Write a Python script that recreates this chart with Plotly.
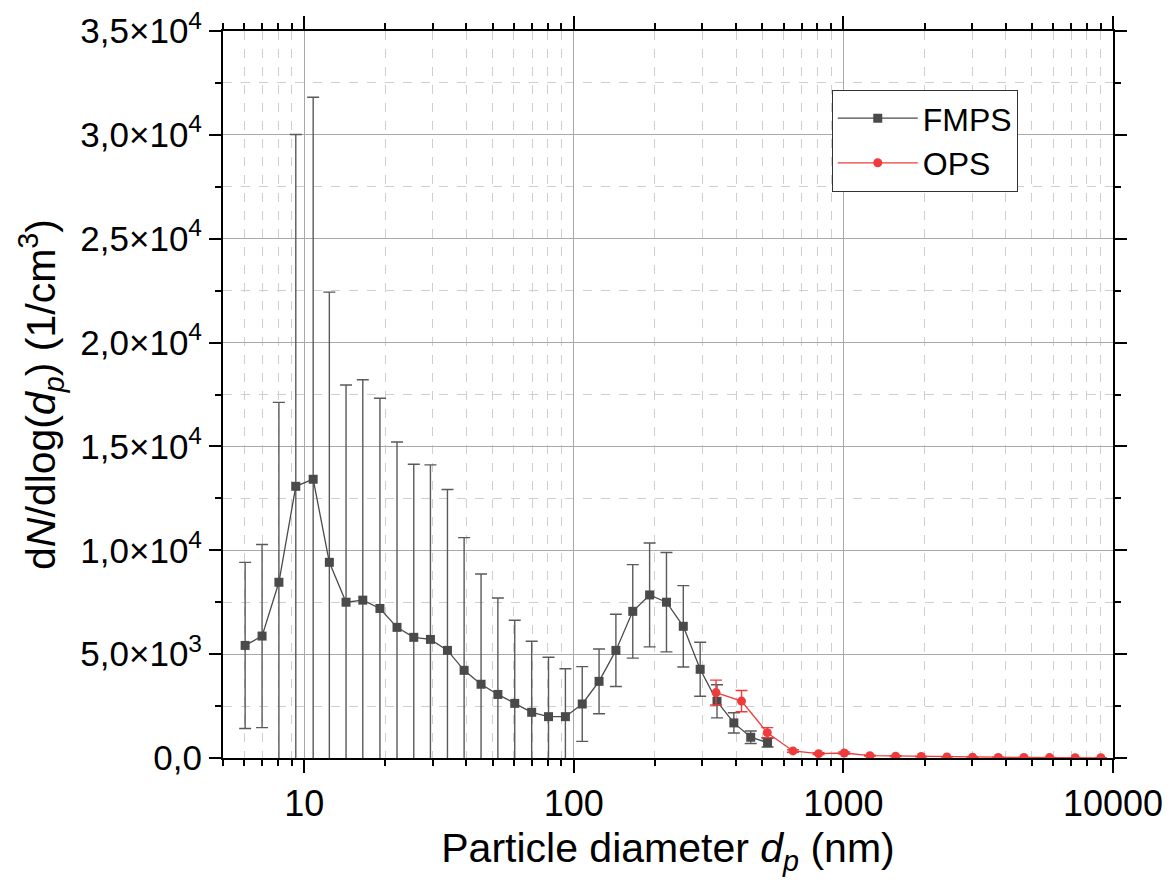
import plotly.graph_objects as go

# FMPS channels (nm), dN/dlog(dp) and error
fmps_d = [6.04, 6.98, 8.06, 9.31, 10.8, 12.4, 14.3, 16.5, 19.1, 22.1, 25.5, 29.4,
          34.0, 39.2, 45.3, 52.3, 60.4, 69.8, 80.6, 93.1, 107.5, 124.1, 143.3,
          165.5, 191.1, 220.7, 254.8, 294.3, 339.8, 392.4, 453.2, 523.3]
fmps_n = [5420, 5870, 8460, 13080, 13420, 9420, 7500, 7600, 7200, 6290, 5810, 5710,
          5180, 4220, 3550, 3060, 2630, 2200, 1990, 1990, 2600, 3690, 5180,
          7060, 7850, 7500, 6340, 4270, 2730, 1690, 1000, 740]
fmps_err = [4000, 4410, 8660, 16940, 18390, 13010, 10460, 10610, 10120, 8920, 8330, 8400,
            7750, 6390, 5310, 4640, 4000, 3420, 2860, 2310, 1800, 1560, 1740,
            2250, 2500, 2390, 1960, 1300, 800, 490, 300, 210]

# OPS channels (nm)
ops_d = [337, 419, 522, 650, 809, 1007, 1254, 1562, 1944, 2421, 3014, 3752,
         4672, 5816, 7241, 9016]
ops_n = [3150, 2740, 1220, 340, 210, 240, 110, 90, 70, 50, 40, 30, 25, 20, 15, 10]
ops_err = [600, 510, 240, 60, 40, 50, 20, 15, 10, 8, 6, 5, 4, 3, 3, 2]

y_ticks = [0, 5000, 10000, 15000, 20000, 25000, 30000, 35000]
y_ticktext = ["0,0", "5,0×10<sup>3</sup>", "1,0×10<sup>4</sup>", "1,5×10<sup>4</sup>",
              "2,0×10<sup>4</sup>", "2,5×10<sup>4</sup>", "3,0×10<sup>4</sup>",
              "3,5×10<sup>4</sup>"]
x_ticks = [10, 100, 1000, 10000]
x_ticktext = ["10", "100", "1000", "10000"]

FONT = "Liberation Sans, Arial, sans-serif"
dark = "#4a4a4a"
red = "#ef3b3b"

fig = go.Figure()
fig.add_trace(go.Scatter(
    x=fmps_d, y=fmps_n, name="FMPS", mode="lines+markers",
    line=dict(color=dark, width=1.3),
    marker=dict(symbol="square", size=9, color=dark),
    error_y=dict(type="data", array=fmps_err, color="#5a5a5a", thickness=1.4, width=6),
))
fig.add_trace(go.Scatter(
    x=ops_d, y=ops_n, name="OPS", mode="lines+markers",
    line=dict(color=red, width=1.3),
    marker=dict(symbol="circle", size=9, color=red),
    error_y=dict(type="data", array=ops_err, color=red, thickness=1.4, width=6),
))

minor_x = [m * 10 ** e for e in range(0, 4) for m in range(2, 10) if m * 10 ** e >= 5]
minor_y = [2500 + 5000 * i for i in range(7)]

fig.update_xaxes(
    type="log", range=[0.69897, 4],
    tickmode="array", tickvals=x_ticks, ticktext=x_ticktext,
    ticks="outside", ticklen=13, tickwidth=2, tickcolor="black",
    showline=True, linewidth=2, linecolor="black", mirror="ticks",
    showgrid=True, gridcolor="#a8a8a8", gridwidth=1.3, zeroline=False,
    minor=dict(tickvals=minor_x, ticks="outside", ticklen=6, tickwidth=2, tickcolor="black",
               showgrid=True, gridcolor="#cfcfcf", griddash="dash", gridwidth=1),
    tickfont=dict(size=36, color="black", family=FONT),
    ticklabeloverflow="allow",
    title=dict(text="Particle diameter <i>d<sub>p</sub></i> (nm)",
               font=dict(size=41, color="black", family=FONT), standoff=10),
)
fig.update_yaxes(
    range=[0, 35000],
    tickmode="array", tickvals=y_ticks, ticktext=y_ticktext,
    ticks="outside", ticklen=12, tickwidth=2, tickcolor="black",
    showline=True, linewidth=2, linecolor="black", mirror="ticks",
    showgrid=True, gridcolor="#a8a8a8", gridwidth=1.3, zeroline=False,
    minor=dict(tickvals=minor_y, ticks="outside", ticklen=6, tickwidth=2, tickcolor="black",
               showgrid=True, gridcolor="#cfcfcf", griddash="dash", gridwidth=1),
    tickfont=dict(size=35, color="black", family=FONT),
    ticklabeloverflow="allow",
    title=dict(text="d<i>N</i>/dlog(<i>d<sub>p</sub></i>) (1/cm<sup>3</sup>)",
               font=dict(size=41, color="black", family=FONT), standoff=12),
)

# page body adds an 8px offset, so the figure is 8px smaller than the window
fig.update_layout(
    width=1163, height=881,
    margin=dict(l=215, r=58, t=23, b=131, autoexpand=False),
    paper_bgcolor="white", plot_bgcolor="white",
    font=dict(family=FONT, color="black"),
    legend=dict(x=0.684, y=0.919, xanchor="left", yanchor="top",
                bgcolor="white", bordercolor="#333333", borderwidth=1,
                font=dict(size=32, color="black", family=FONT),
                itemwidth=80, tracegroupgap=0),
    showlegend=True,
)

fig.write_html("out.html")
